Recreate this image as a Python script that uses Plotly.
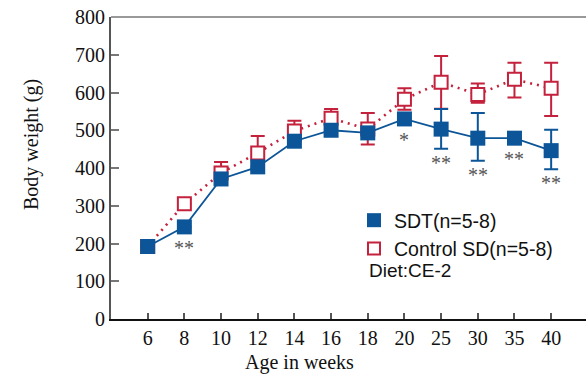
import plotly.graph_objects as go

ages = ["6", "8", "10", "12", "14", "16", "18", "20", "25", "30", "35", "40"]
sdt_mean = [192, 244, 371, 403, 471, 500, 493, 530, 503, 479, 479, 446]
sdt_err_plus = [0, 0, 0, 0, 0, 0, 0, 0, 53, 67, 0, 55]
sdt_err_minus = [0, 0, 0, 0, 0, 0, 0, 0, 52, 60, 0, 49]
ctl_mean = [192, 305, 387, 440, 498, 532, 503, 582, 627, 595, 635, 611]
ctl_err_plus = [0, 0, 29, 45, 27, 24, 43, 29, 70, 29, 44, 68]
ctl_err_minus = [0, 0, 29, 45, 27, 24, 41, 28, 70, 22, 48, 73]
sig_labels = ["", "**", "", "", "", "", "", "*", "**", "**", "**", "**"]

blue = "#0b5598"
red = "#c4213d"
serif = "Liberation Serif"
sans = "Liberation Sans"

x = list(range(len(ages)))
W, H = 586, 374
L, T, B = 111, 17, 55
PW, PH = W - L, H - T - B

fig = go.Figure()

fig.add_trace(go.Scatter(
    x=x, y=ctl_mean, mode="lines+markers", showlegend=False,
    line=dict(color=red, width=2.6, dash="2px,5px"),
    marker=dict(symbol="square", size=13, color="white", line=dict(color=red, width=2)),
    error_y=dict(type="data", symmetric=False, array=ctl_err_plus, arrayminus=ctl_err_minus,
                 color=red, thickness=2, width=7),
))
fig.add_trace(go.Scatter(
    x=x, y=sdt_mean, mode="lines+markers", showlegend=False,
    line=dict(color=blue, width=1.8),
    marker=dict(symbol="square", size=15, color=blue, line=dict(width=0)),
    error_y=dict(type="data", symmetric=False, array=sdt_err_plus, arrayminus=sdt_err_minus,
                 color=blue, thickness=2, width=7),
))

# legend-only traces (marker symbols only)
fig.add_trace(go.Scatter(x=[None], y=[None], mode="markers", name="SDT(n=5-8)",
                         marker=dict(symbol="square", size=14, color=blue)))
fig.add_trace(go.Scatter(x=[None], y=[None], mode="markers", name="Control SD(n=5-8)",
                         marker=dict(symbol="square", size=12, color="white",
                                     line=dict(color=red, width=2))))

for i, lab in enumerate(sig_labels):
    if not lab:
        continue
    base = sdt_mean[i] - sdt_err_minus[i]
    shift = -14 if sdt_err_minus[i] > 0 else -21
    fig.add_annotation(x=x[i], y=base, text=lab, showarrow=False, yshift=shift,
                       font=dict(family=serif, size=20, color="#555555"))

fig.add_annotation(xref="paper", yref="paper", x=(367 - L) / PW, y=(H - B - 270) / PH,
                   xanchor="left", yanchor="middle", text="Diet:CE-2", showarrow=False,
                   font=dict(family=sans, size=19, color="#111111"))

# axis titles
fig.add_annotation(xref="paper", yref="paper", x=(299 - L) / PW, y=(H - B - 362) / PH,
                   xanchor="center", yanchor="middle", text="Age in weeks", showarrow=False,
                   font=dict(family=serif, size=20, color="#111111"))
fig.add_annotation(xref="paper", yref="paper", x=(31 - L) / PW, y=(H - B - 145) / PH,
                   xanchor="center", yanchor="middle", text="Body weight (g)", showarrow=False,
                   textangle=-90, font=dict(family=serif, size=20, color="#111111"))

fig.add_shape(type="line", xref="paper", yref="paper", x0=0, x1=1, y0=1, y1=1,
              line=dict(color="#777777", width=1.5))

fig.update_layout(
    width=W, height=H,
    margin=dict(l=L, r=0, t=T, b=B),
    plot_bgcolor="white", paper_bgcolor="white",
    font=dict(family=serif, size=20, color="#111111"),
    legend=dict(x=(354 - L) / PW, y=(H - B - 201) / PH, xanchor="left", yanchor="top",
                font=dict(family=sans, size=19.5, color="#111111"),
                bgcolor="rgba(0,0,0,0)", itemclick=False, tracegroupgap=0),
)
fig.update_xaxes(
    range=[-1, 11.95], tickvals=x, ticktext=ages,
    showline=True, linecolor="#111111", linewidth=2,
    ticks="inside", ticklen=6, tickcolor="#555555", tickwidth=1.5,
    showgrid=False, zeroline=False,
    tickfont=dict(family=serif, size=20),
)
fig.update_yaxes(
    range=[0, 800], tickvals=[0, 100, 200, 300, 400, 500, 600, 700, 800],
    showline=True, linecolor="#555555", linewidth=2,
    ticks="inside", ticklen=8, tickcolor="#777777", tickwidth=2,
    showgrid=False, zeroline=False,
    tickfont=dict(family=serif, size=20),
)

fig.write_html("out.html")
